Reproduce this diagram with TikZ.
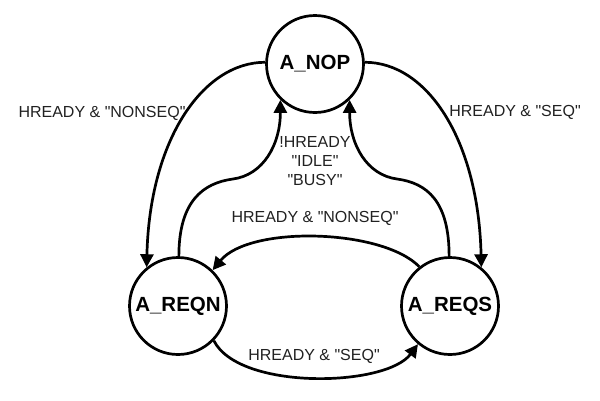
\documentclass[tikz,border=0pt]{standalone}
\usepackage{fontspec}
\setmainfont{Liberation Sans}[Ligatures=TeXOff]
\usetikzlibrary{arrows.meta}
\begin{document}
\begin{tikzpicture}[x=1pt,y=-1pt,
  state/.style={circle,draw,line width=2.7pt,minimum size=97pt,inner sep=0pt,font=\fontsize{20.5}{24}\selectfont\bfseries},
  trans/.style={line width=2.7pt,-{Triangle[length=13pt,width=13pt]}},
  lbl/.style={font=\fontsize{16}{19}\selectfont,text=black!87,align=center,inner sep=0pt}]
\useasboundingbox (0,0) rectangle (600,400);
\node[state] (nop) at (315,64) {A\_NOP};
\node[state] (reqn) at (178,306) {A\_REQN};
\node[state] (reqs) at (450,306) {A\_REQS};
\coordinate (m1) at (233,179);
\coordinate (m2) at (397,179);
% outer arcs
\draw[trans] (nop.178) .. controls +(-62,0) and +(3,-128) .. (reqn.129);
\draw[trans] (nop.2) .. controls +(62,0) and +(-3,-128) .. (reqs.51);
% inner S curves
\draw[trans] (reqn.89) .. controls +(0,-55) and +(-30,4) .. (m1) .. controls +(30,-4) and +(0,45) .. (nop.226);
\draw[trans] (reqs.91) .. controls +(0,-55) and +(30,4) .. (m2) .. controls +(-30,-4) and +(0,45) .. (nop.314);
% bottom arcs
\draw[trans] (reqs.128) .. controls +(-37,-38) and +(37,-45) .. (reqn.46);
\draw[trans] (reqn.-44) .. controls +(25,50) and +(-32,43) .. (reqs.230);
% labels
\node[lbl] (l1) at (102,113) {HREADY \& "NONSEQ"};
\node[lbl] (l2) at (515,112) {HREADY \& "SEQ"};
\node[lbl] (l3) at (315,161) {!HREADY\\"IDLE"\\"BUSY"};
\node[lbl] (l4) at (315,218) {HREADY \& "NONSEQ"};
\node[lbl] (l5) at (314,356) {HREADY \& "SEQ"};
\end{tikzpicture}
\end{document}
